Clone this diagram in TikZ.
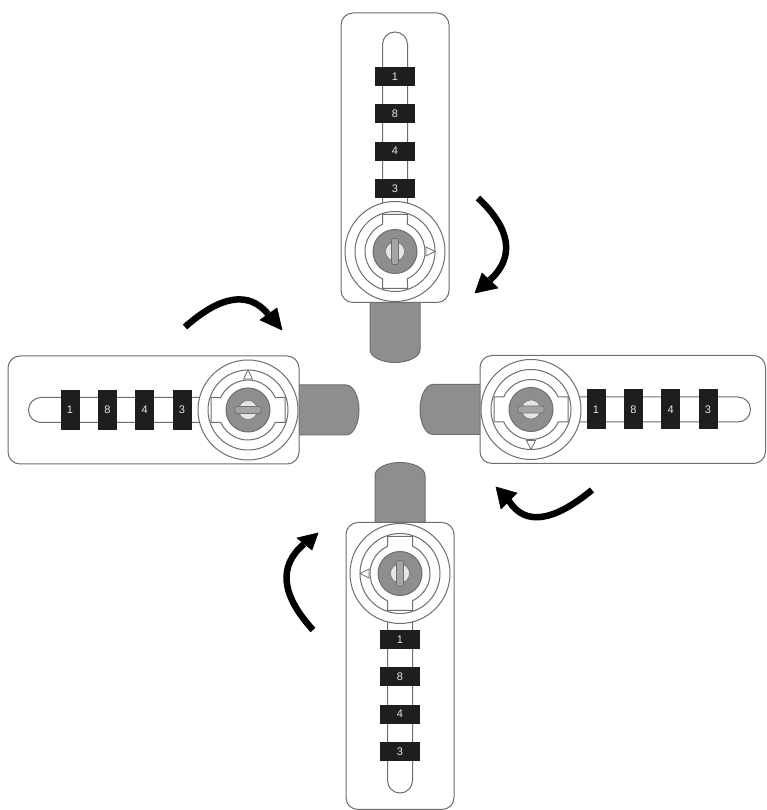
\documentclass[tikz,border=0pt]{standalone}
\usepackage{fontspec}
\setmainfont{Liberation Sans}
\definecolor{lineg}{HTML}{6E6E6E}
\definecolor{metal}{HTML}{8E8E8E}
\definecolor{tagk}{HTML}{1E1E1E}
\tikzset{
  every picture/.style={x=1pt,y=1pt},
  outl/.style={draw=lineg,line width=1pt},
  tagbox/.style={fill=tagk},
  digit/.style={text=white!90!black,font=\fontsize{11}{11}\selectfont,inner sep=0pt},
  turn/.style={black,line width=6.5pt},
  turnhead/.style={fill=black,draw=black,line width=0.6pt,line join=round}
}
% #1 name, #2 cx, #3 cy, #4 rotation, #5 first wheel offset, #6 plate length, #7 wheels from the dial outwards
\newcommand{\lockunit}[7]{%
  \begin{scope}[shift={(#2,-#3)},rotate=#4]
    \path[outl,fill=metal] (-25,-50) -- (-25,-98) .. controls (-25,-106) and (-12,-111) .. (0,-111)
       .. controls (12,-111) and (25,-106) .. (25,-98) -- (25,-50) -- cycle;
    \path[outl,fill=white,rounded corners=12pt] (-54,-51) rectangle (54,#6);
    \path[outl] (-12.5,40) -- (-12.5,207) arc[start angle=180,end angle=0,radius=12.5] -- (12.5,40);
    \foreach \n/\d/\off in {#7}{
      \pgfmathsetmacro{\ty}{#5+\off}
      \fill[tagbox] (-20,\ty-9.5) rectangle (20,\ty+9.5);
      \node[digit] (#1\n) at (0,\ty) {\d};
    }
    \path[outl,fill=white] (0,0) circle[radius=50];
    \path[outl,fill=white] (0,0) circle[radius=40];
    \path[outl,fill=white] (65.4:30) arc[start angle=65.4,end angle=-65.4,radius=30]
       -- (12.5,-37) -- (-12.5,-37) -- (-12.5,-27.3)
       arc[start angle=245.4,end angle=114.6,radius=30]
       -- (-12.5,37) -- (12.5,37) -- cycle;
    \path[outl,line width=0.8pt,fill=white] (31,-4.5) -- (40,0) -- (31,4.5) -- cycle;
    \path[outl,fill=metal] (0,0) circle[radius=22];
    \path[fill=white!90!black,draw=lineg,line width=0.5pt] (0,0) circle[radius=9.5];
    \path[fill=metal!80!white,draw=lineg,line width=0.7pt,rounded corners=2pt] (-3.5,-13) rectangle (3.5,13);
  \end{scope}}
\begin{document}
\begin{tikzpicture}
\begin{scope}[shift={(0,810)}]
\useasboundingbox (0,0) rectangle (766,-810);
\lockunit{t}{395}{251.5}{0}{63}{238.5}{a/3/0,b/4/37.3,c/8/74.6,d/1/112}
\lockunit{l}{248}{410}{90}{66}{240}{a/3/0,b/4/37.3,c/8/74.6,d/1/112}
\lockunit{r}{531}{409.5}{-90}{65}{234.5}{a/1/0,b/8/37.3,c/4/74.6,d/3/112}
\lockunit{b}{400}{573.5}{180}{66}{236}{a/1/0,b/8/37.3,c/4/74.6,d/3/112}
\draw[turn] (478,-198) .. controls (511,-229) and (515,-257) .. (490,-280);
\fill[turnhead] (475,-293) -- (482,-273) -- (498,-288) -- cycle;
\draw[turn] (185,-327) .. controls (221,-295) and (249,-291) .. (268,-314);
\fill[turnhead] (282,-330) -- (277,-308) -- (260,-320) -- cycle;
\draw[turn] (592,-490) .. controls (553,-522) and (525,-526) .. (509,-501);
\fill[turnhead] (496,-487) -- (501,-509) -- (517,-493) -- cycle;
\draw[turn] (313,-630) .. controls (281,-595) and (278,-566) .. (304,-544);
\fill[turnhead] (318,-533) -- (297,-538) -- (312,-550) -- cycle;
\end{scope}
\end{tikzpicture}
\end{document}
